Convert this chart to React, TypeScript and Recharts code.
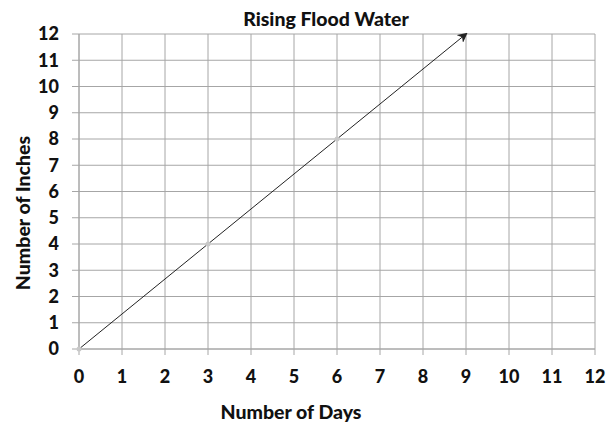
import { CartesianGrid, Line, LineChart, XAxis, YAxis } from "recharts";

// readings taken off the chart
const days = [0, 3, 6, 9];
const inches = [0, 4, 8, 12];
const dayTicks = [0, 1, 2, 3, 4, 5, 6, 7, 8, 9, 10, 11, 12];
const inchTicks = [0, 1, 2, 3, 4, 5, 6, 7, 8, 9, 10, 11, 12];

const title = "Rising Flood Water";
const xTitle = "Number of Days";
const yTitle = "Number of Inches";

const data = days.map((d, i) => ({ day: d, inches: inches[i] }));

const font = "Lato, 'Open Sans', sans-serif";
const gridColor = "#a6a6a6";
const tickStyle = { fontFamily: font, fontWeight: 900, fontSize: 18, fill: "#111" };

const renderDot = (props: any) => {
  const { cx, cy, index } = props;
  if (index === data.length - 1) return <g key={`dot-${index}`} />;
  return <circle key={`dot-${index}`} cx={cx} cy={cy} r={2.5} fill="#c8c8c8" stroke="none" />;
};

export default function App() {
  return (
    <div style={{ position: "absolute", left: 0, top: 0, width: 615, height: 424, background: "#fff" }}>
      <LineChart width={615} height={424} data={data} margin={{ top: 34, right: 20, bottom: 0, left: 0 }}>
        <defs>
          <marker id="arrowHead" viewBox="0 0 10 10" refX="8" refY="5" markerWidth="10" markerHeight="10" markerUnits="userSpaceOnUse" orient="auto">
            <path d="M0,0 L10,5 L0,10 L3,5 z" fill="#222" />
          </marker>
        </defs>
        <CartesianGrid stroke={gridColor} />
        <XAxis
          dataKey="day"
          type="number"
          domain={[0, 12]}
          ticks={dayTicks}
          interval={0}
          height={75}
          tickSize={6}
          tickMargin={15}
          stroke={gridColor}
          tick={tickStyle}
        />
        <YAxis
          type="number"
          domain={[0, 12]}
          ticks={inchTicks}
          interval={0}
          width={79}
          tickSize={7}
          tickMargin={13}
          stroke={gridColor}
          tick={tickStyle}
        />
        <Line
          dataKey="inches"
          type="linear"
          stroke="#222"
          strokeWidth={1}
          dot={renderDot}
          activeDot={false}
          markerEnd="url(#arrowHead)"
          isAnimationActive={false}
        />
      </LineChart>
      <svg width={615} height={424} style={{ position: "absolute", left: 0, top: 0, pointerEvents: "none" }}>
        <text x={326} y={26} textAnchor="middle" fontFamily={font} fontWeight={900} fontSize={19.5} fill="#111">
          {title}
        </text>
        <text x={291} y={419} textAnchor="middle" fontFamily={font} fontWeight={900} fontSize={19.5} fill="#111">
          {xTitle}
        </text>
        <text x={30} y={213} textAnchor="middle" fontFamily={font} fontWeight={900} fontSize={19.5} fill="#111" transform="rotate(-90 30 213)">
          {yTitle}
        </text>
      </svg>
    </div>
  );
}
